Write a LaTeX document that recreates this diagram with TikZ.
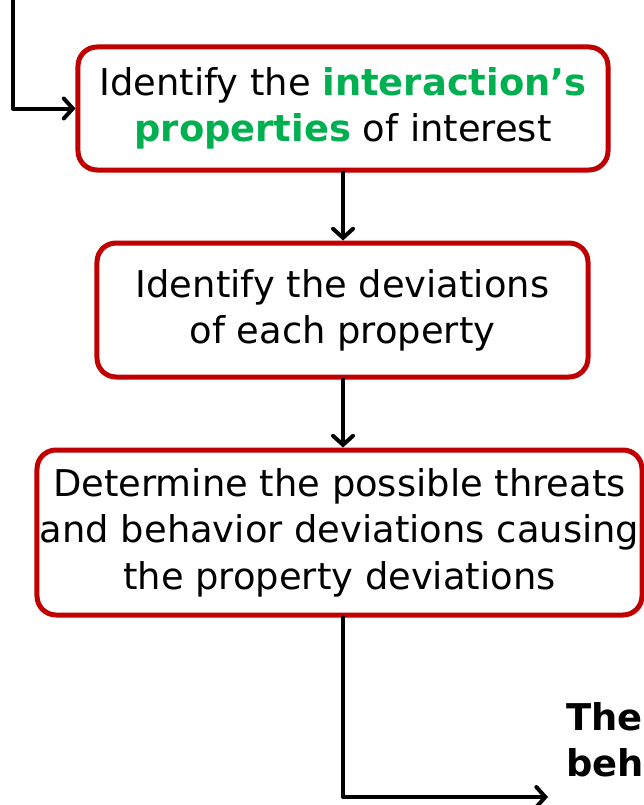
\documentclass[tikz,border=0pt]{standalone}
\usepackage{fontspec}
\setmainfont{DejaVu Sans}
\usetikzlibrary{arrows.meta}
\definecolor{boxred}{HTML}{C00000}
\definecolor{keygreen}{HTML}{00B050}
\begin{document}
\begin{tikzpicture}[x=1bp,y=-1bp,
  stepbox/.style={draw=boxred, line width=5bp, rounded corners=19bp, inner sep=0pt,
    align=center, font=\fontsize{37}{46.5}\selectfont},
  flow/.style={draw=black, line width=4bp, line cap=round, line join=round,
    -{Straight Barb[length=9bp,width=20bp,line cap=round]}}]
\useasboundingbox (0,0) rectangle (644,805);

% process steps
\node[stepbox, minimum width=530bp, minimum height=123bp] (props) at (343,108.5)
  {Identify the \textcolor{keygreen}{\bfseries interaction’s}\\
   \textcolor{keygreen}{\bfseries properties} of interest};
\node[stepbox, minimum width=491bp, minimum height=134bp] (devs) at (342.5,310)
  {Identify the deviations\\of each property};
\node[stepbox, minimum width=605bp, minimum height=165bp] (threats) at (339.5,532.5)
  {Determine the possible threats\\and behavior deviations causing\\the property deviations};

% outcome label
\node[anchor=north west, align=left, inner sep=0pt,
  font=\fontsize{37}{46.5}\selectfont\bfseries] (result) at (566,702) {The\\behavior};

% connectors
\coordinate (inlet) at (13,0);
\coordinate (outlet) at (548,797);
\draw[flow] (inlet) |- (props.west);
\draw[flow] (props.south) -- (props.south |- devs.north);
\draw[flow] (devs.south -| props.south) -- (props.south |- threats.north);
\draw[flow] (props.south |- threats.south) |- (outlet);
\end{tikzpicture}
\end{document}
